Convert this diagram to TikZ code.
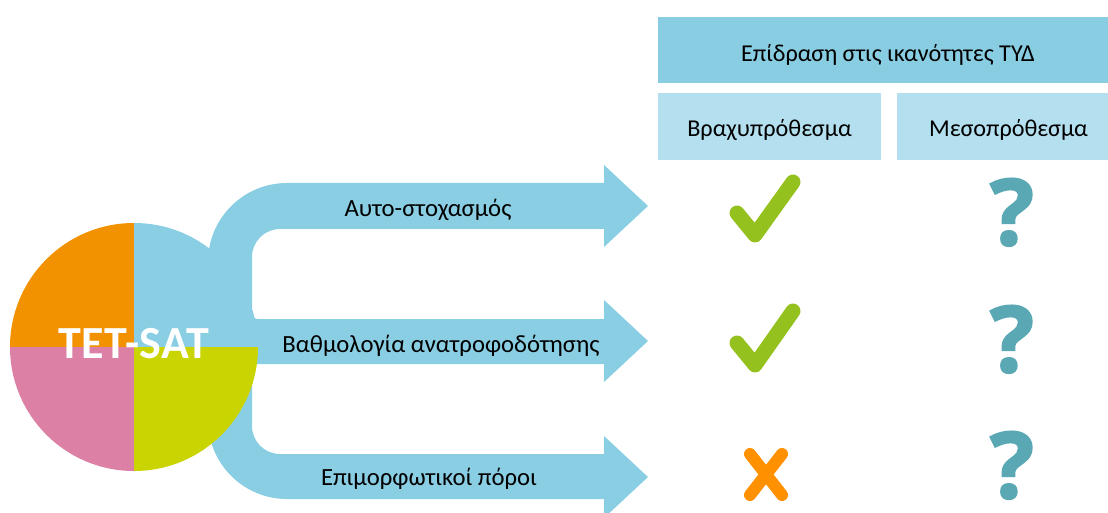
\documentclass[tikz,border=0pt]{standalone}
\usepackage{fontspec}
\setmainfont{Carlito}
\newfontfamily\qfont{Open Sans}[UprightFont={* Bold},FakeBold=2]
\newfontfamily\tetfont{Carlito}[UprightFont={* Bold},LetterSpace=1.5]
\definecolor{bandblue}{HTML}{8ACEE4}
\definecolor{headblue}{HTML}{89CDE3}
\definecolor{subblue}{HTML}{B3DFEE}
\definecolor{qorange}{HTML}{F39200}
\definecolor{qpink}{HTML}{DC80A6}
\definecolor{qyellow}{HTML}{C9D400}
\definecolor{okgreen}{HTML}{95C11F}
\definecolor{noorange}{HTML}{FF9100}
\definecolor{qmark}{HTML}{5BA8B5}
\begin{document}
\begin{tikzpicture}[x=1pt,y=1pt,
  lbl/.style={anchor=base,inner sep=0pt,font=\fontsize{24.7}{28}\selectfont},
  hdr/.style={anchor=base,inner sep=0pt,font=\fontsize{24.2}{28}\selectfont},
  okmark/.style={draw=okgreen,line width=15pt,line cap=round,line join=round},
  nomark/.style={draw=noorange,line width=12pt,line cap=round},
  qnode/.style={anchor=base,inner sep=0pt,text=qmark,font=\qfont\fontsize{92}{92}\selectfont}]
\useasboundingbox (0,0) rectangle (1108,512);
\clip (0,0) rectangle (1108,512);
% branching band
\fill[bandblue] (604,329) -- (287,329) arc (90:180:79) -- (208,92) arc (180:270:79)
  -- (604,13) -- (604,58) -- (280,58) arc (270:180:28) -- (252,143) arc (180:90:5)
  -- (604,148) -- (604,193) -- (257,193) arc (270:180:5) -- (252,255) arc (180:90:28)
  -- (604,283) -- cycle;
% arrow heads
\fill[bandblue] (604,347) -- (648,306) -- (604,265) -- cycle;
\fill[bandblue] (604,212) -- (648,171) -- (604,130) -- cycle;
\fill[bandblue] (604,76) -- (648,35) -- (604,-6) -- cycle;
% circle
\coordinate (c) at (134,165);
\fill[qorange] (c) -- ++(-124,0) arc (180:90:124) -- cycle;
\fill[bandblue] (c) -- ++(0,124) arc (90:0:124) -- cycle;
\fill[qpink] (c) -- ++(0,-124) arc (270:180:124) -- cycle;
\fill[qyellow] (c) -- ++(124,0) arc (0:-90:124) -- cycle;
\node[anchor=base,inner sep=0pt,text=white,font=\tetfont\fontsize{46}{46}\selectfont] (tet) at (134,154) {TET-SAT};
% band labels
\node[lbl] (l1) at (428,295) {Αυτο-στοχασμός};
\node[lbl] (l2) at (441,160) {Βαθμολογία ανατροφοδότησης};
\node[lbl] (l3) at (429,27) {Επιμορφωτικοί πόροι};
% table header
\fill[headblue] (658,429) rectangle (1108,495);
\fill[subblue] (658,352) rectangle (881,419);
\fill[subblue] (897,352) rectangle (1108,419);
\node[hdr] (h) at (888,450) {Επίδραση στις ικανότητες ΤΥΔ};
\node[hdr] (h1) at (769.5,375) {Βραχυπρόθεσμα};
\node[hdr] (h2) at (1008.5,375) {Μεσοπρόθεσμα};
% marks
\draw[okmark] (737,299) -- (755,277) -- (793,330);
\draw[okmark] (737,169) -- (755,147) -- (793,201);
\draw[nomark] (750,58) -- (782,17);
\draw[nomark] (782,58) -- (750,17);
\node[qnode] (q1) at (1012,267) {?};
\node[qnode] (q2) at (1012,140) {?};
\node[qnode] (q3) at (1012,14) {?};
\end{tikzpicture}
\end{document}
